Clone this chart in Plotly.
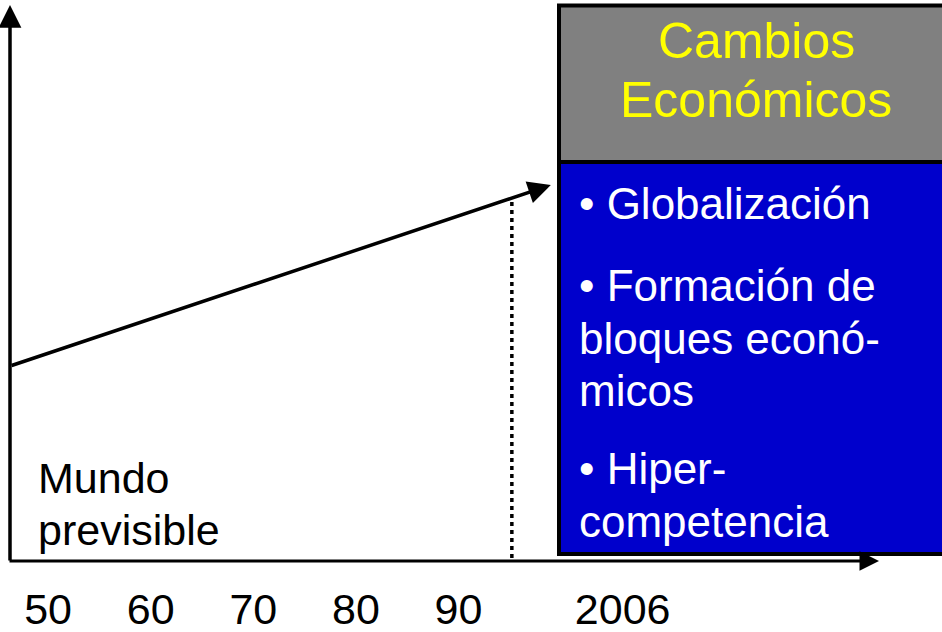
import plotly.graph_objects as go

# ---- data ----
tick_years = [1950, 1960, 1970, 1980, 1990, 2006]
tick_labels = ["50", "60", "70", "80", "90", "2006"]
trend_years = [1946.3, 1999.0]
trend_levels = [195, 376]
marker_year = 1995.2
marker_level = 359
header_lines = ["Cambios", "Económicos"]
body_lines = ["• Globalización", "• Formación de", "bloques econó-", "micos",
              "• Hiper-", "competencia"]
left_lines = ["Mundo", "previsible"]

W, H = 942, 632
AXIS_PX = 561               # pixel row of the x axis
SLOPE, OFF = 10.26, -464.9  # pixel = OFF + SLOPE*(year-1900)


def xd(px):
    return 1900 + (px - OFF) / SLOPE


def yd(py):
    return AXIS_PX - py


FONT = "Liberation Sans, Arial, sans-serif"
fig = go.Figure()

# dotted vertical marker
fig.add_trace(go.Scatter(
    x=[marker_year, marker_year], y=[marker_level, 0], mode="lines",
    line=dict(color="black", width=3.5, dash="4px,4px"),
    hoverinfo="skip", showlegend=False, cliponaxis=False))

shapes = []
# gray header box
shapes.append(dict(type="rect", xref="x", yref="y",
                   x0=xd(559), x1=xd(960), y0=yd(162), y1=yd(5.5),
                   fillcolor="#808080", line=dict(color="black", width=4),
                   layer="above"))
# blue body box
shapes.append(dict(type="rect", xref="x", yref="y",
                   x0=xd(559), x1=xd(960), y0=yd(554), y1=yd(162),
                   fillcolor="#0000CC", line=dict(color="black", width=4),
                   layer="above"))

ann = []
# axes with arrows
x0_axis = xd(10)
ann.append(dict(x=xd(879), y=0, ax=xd(8), ay=0, xref="x", yref="y",
                axref="x", ayref="y", showarrow=True, arrowhead=2,
                arrowsize=1.3, arrowwidth=3, arrowcolor="black", text=""))
ann.append(dict(x=x0_axis, y=yd(5), ax=x0_axis, ay=-1, xref="x", yref="y",
                axref="x", ayref="y", showarrow=True, arrowhead=2,
                arrowsize=1.3, arrowwidth=3.5, arrowcolor="black", text=""))
# trend arrow
ann.append(dict(x=trend_years[1], y=trend_levels[1], ax=trend_years[0],
                ay=trend_levels[0], xref="x", yref="y", axref="x", ayref="y",
                showarrow=True, arrowhead=2, arrowsize=1.3, arrowwidth=3.5,
                arrowcolor="black", text=""))

# header text
for txt, py in zip(header_lines, [41, 100]):
    ann.append(dict(x=xd(756), y=yd(py), xref="x", yref="y", text=txt,
                    showarrow=False, xanchor="center", yanchor="middle",
                    font=dict(family=FONT, size=50, color="#FFFF00")))
# body text
for txt, py in zip(body_lines, [203, 285, 338, 390, 468, 521]):
    ann.append(dict(x=xd(577), y=yd(py), xref="x", yref="y", text=txt,
                    showarrow=False, xanchor="left", yanchor="middle",
                    font=dict(family=FONT, size=44, color="white")))
# left text
for txt, py in zip(left_lines, [478, 530]):
    ann.append(dict(x=xd(36), y=yd(py), xref="x", yref="y", text=txt,
                    showarrow=False, xanchor="left", yanchor="middle",
                    font=dict(family=FONT, size=43, color="black")))

fig.update_layout(
    width=W, height=H, margin=dict(l=0, r=0, t=0, b=H - AXIS_PX, pad=0),
    paper_bgcolor="white", plot_bgcolor="white",
    shapes=shapes, annotations=ann, showlegend=False,
    xaxis=dict(range=[xd(0), xd(W)], showgrid=False, zeroline=False,
               showline=False, ticks="", tickvals=tick_years,
               ticktext=tick_labels, ticklabelstandoff=19,
               tickfont=dict(family=FONT, size=43, color="black")),
    yaxis=dict(range=[0, AXIS_PX], showgrid=False, zeroline=False,
               showline=False, showticklabels=False, ticks=""),
)

fig.write_html("out.html", config={"displayModeBar": False},
               post_script="document.body.style.margin='0';"
                           "document.body.style.overflow='hidden';")
